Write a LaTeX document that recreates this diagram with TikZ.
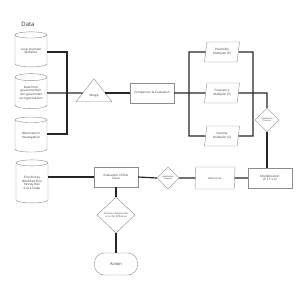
\documentclass[tikz,border=0pt]{standalone}
\usepackage{fontspec}
\setmainfont{Open Sans}
\usetikzlibrary{shapes.geometric}
\definecolor{bordergray}{HTML}{8C8C8C}
\tikzset{
  every node/.style={font=\fontsize{3}{3.6}\selectfont, align=center, text=black!80},
  bord/.style={draw=bordergray, line width=0.4pt, fill=white},
  conn/.style={draw=black!85, line width=1.2pt},
  cyl/.style={bord, cylinder, shape border rotate=90, aspect=0.3, minimum width=32pt, minimum height=35pt, inner sep=0pt},
  boxnode/.style={bord, rectangle, minimum width=44pt, minimum height=20pt, inner sep=0pt},
  para/.style={bord, trapezium, trapezium left angle=70, trapezium right angle=110, trapezium stretches body, minimum width=35pt, minimum height=20pt, inner sep=0pt},
  dia/.style={bord, diamond, inner sep=0pt},
  stadium/.style={bord, rectangle, rounded corners=10pt, minimum width=43pt, minimum height=22pt},
}
\begin{document}
\begin{tikzpicture}[x=1pt,y=-1pt]
\useasboundingbox (0,0) rectangle (300,285);
\node[font=\fontsize{6}{7}\selectfont] (datalbl) at (28,24) {Data};
\node[cyl] (c1) at (31,51) {Local Journals/\\Websites};
\node[cyl] (c2) at (31,93) {Data from\\governmental/\\non-governmen\\tal organisations};
\node[cyl] (c3) at (31,136) {Observation/\\Investigation};
\node[cyl, minimum height=43pt] (c4) at (32,183) {Fine Kinney\\(Modified Fine\\Kinney Risk\\Score Scale)};
\coordinate (lv1) at (67,52);
\coordinate (lv3) at (67,134);
\node[bord, isosceles triangle, shape border rotate=90, isosceles triangle apex angle=76, isosceles triangle stretches, minimum width=36pt, minimum height=23pt, inner sep=0pt] (merge) at (94,93) {};
\node (mergetxt) at (94,96) {Merge};
\node[boxnode] (comp) at (152,93) {Comparison \& Evaluation};
\coordinate (rv1) at (189,52);
\coordinate (rv3) at (189,136);
\node[para] (p) at (222,52) {Possibility\\Multiplier (P)};
\node[para] (f) at (222,93) {Frequency\\Multiplier (F)};
\node[para] (s) at (222,136) {Severity\\Multiplier (S)};
\coordinate (sv1) at (253,52);
\coordinate (sv3) at (253,136);
\coordinate (fk) at (267,93);
\node[dia, minimum width=24pt, minimum height=24pt, font=\fontsize{2}{2.4}\selectfont] (q1) at (267,120) {Qualification\\Criterion};
\node[boxnode] (mult) at (270,178) {Multiplication\\(P x F x S)};
\node[para, minimum width=40pt, minimum height=22pt, font=\fontsize{2.7}{3.2}\selectfont] (risk) at (215,178) {Risk Score};
\node[dia, minimum width=22pt, minimum height=22pt, font=\fontsize{2}{2.4}\selectfont] (q2) at (168,178) {Qualification\\Criterion};
\node[boxnode] (eval) at (116,177) {Evaluation of Risk\\Score};
\node[dia, minimum width=38pt, minimum height=36pt, font=\fontsize{2.3}{2.8}\selectfont] (dec) at (116,215) {Decision / Appropriate\\or not for Difference};
\node[stadium, font=\fontsize{4}{5}\selectfont] (act) at (116,264) {Action};
% connectors
\draw[conn] (c1.east |- lv1) -- (lv1) -- (lv3) -- (c3.east |- lv3);
\draw[conn] (c2.east) -- (merge);
\draw[conn] (merge) -- (comp.west);
\draw[conn] (comp.east) -- (f.west);
\draw[conn] (p.west) -- (rv1) -- (rv3) -- (s.west);
\draw[conn] (p.east) -- (sv1) -- (sv3) -- (s.east);
\draw[conn] (f.east) -- (fk) -- (q1.north);
\draw[conn] (q1.south) -- (mult.north -| q1.south);
\draw[conn] (mult.west) -- (risk.east);
\draw[conn] (risk.west) -- (q2.east);
\draw[conn] (q2.west) -- (eval.east);
\draw[conn] (eval.west) -- (c4.east |- eval.west);
\draw[conn] (eval.south) -- (dec.north);
\draw[conn] (dec.south) -- (act.north);
\end{tikzpicture}
\end{document}
